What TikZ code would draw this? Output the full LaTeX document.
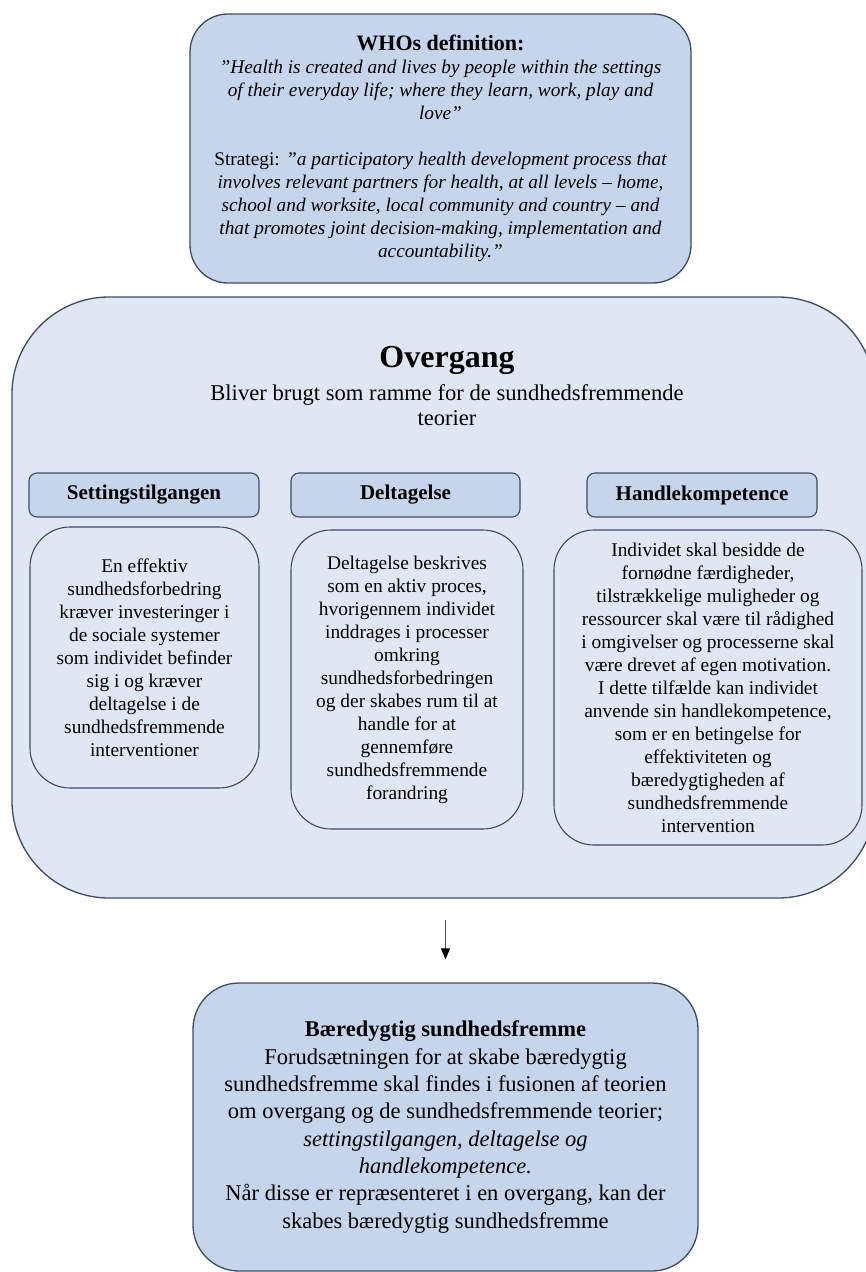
\documentclass[tikz,border=0pt]{standalone}
\usepackage{fontspec}
\setmainfont{Liberation Serif}
\usetikzlibrary{arrows.meta, positioning}
\definecolor{boxfill}{HTML}{C6D5EC}
\definecolor{framefill}{HTML}{DFE7F5}
\definecolor{boxstroke}{HTML}{3D4B60}
\definecolor{arrowgray}{HTML}{555555}

\begin{document}
\begin{tikzpicture}[
    x=1pt, y=-1pt,
    outerbox/.style={
        rectangle,
        draw=boxstroke,
        line width=1.3pt,
        fill=boxfill,
        align=center,
        inner sep=0pt,
    },
    headbox/.style={
        rectangle,
        rounded corners=8pt,
        minimum width=230pt,
        minimum height=44pt,
        draw=boxstroke,
        line width=1.1pt,
        fill=boxfill,
        font=\fontsize{21}{24}\selectfont\bfseries,
    },
    textbox/.style={
        rectangle,
        rounded corners=40pt,
        draw=boxstroke,
        line width=1.1pt,
        fill=framefill,
        align=center,
        inner sep=0pt,
        font=\fontsize{19.4}{23}\selectfont,
    },
    flow/.style={
        arrowgray,
        line width=0.8pt,
        -{Triangle[length=11pt, width=9pt, black]},
    },
]

\useasboundingbox (0,0) rectangle (865,1272);

% Top box
\node[outerbox, rounded corners=38pt, minimum width=501pt, minimum height=269pt,
      font=\fontsize{19.3}{23}\selectfont] (who) at (440.5,148.5) {
    {\fontsize{22}{24}\selectfont\bfseries WHOs definition:}\\
    \itshape ”Health is created and lives by people within the settings\\
    \itshape of their everyday life; where they learn, work, play and\\
    \itshape love”\\[23pt]
    Strategi: \itshape ”a participatory health development process that\\
    \itshape involves relevant partners for health, at all levels -- home,\\
    \itshape school and worksite, local community and country -- and\\
    \itshape that promotes joint decision-making, implementation and\\
    \itshape accountability.”
};

% Frame box
\node[outerbox, rounded corners=97pt, fill=framefill, minimum width=863pt,
      minimum height=601pt] (frame) at (443.5,597.5) {};

\node[font=\fontsize{32}{36}\selectfont\bfseries] (title) at (447,360) {Overgang};
\node[align=center, font=\fontsize{22.6}{25}\selectfont] (subtitle) at (447,405) {
    Bliver brugt som ramme for de sundhedsfremmende\\
    teorier
};

% Headings
\node[headbox] (settinghead) at (144,495) {Settingstilgangen};
\node[headbox, minimum width=229pt] (deltaghead) at (405.5,495) {Deltagelse};
\node[headbox] (handlehead) at (702,495) {Handlekompetence};

% Text boxes
\node[textbox, minimum width=229pt, minimum height=261pt] (settingtext) at (144.5,657.5) {
    En effektiv\\
    sundhedsforbedring\\
    kræver investeringer i\\
    de sociale systemer\\
    som individet befinder\\
    sig i og kræver\\
    deltagelse i de\\
    sundhedsfremmende\\
    interventioner
};

\node[textbox, minimum width=232pt, minimum height=299pt] (deltagtext) at (407,679.5) {
    Deltagelse beskrives\\
    som en aktiv proces,\\
    hvorigennem individet\\
    inddrages i processer\\
    omkring\\
    sundhedsforbedringen\\
    og der skabes rum til at\\
    handle for at\\
    gennemføre\\
    sundhedsfremmende\\
    forandring
};

\node[textbox, minimum width=308pt, minimum height=315pt] (handletext) at (708,687.5) {
    Individet skal besidde de\\
    fornødne færdigheder,\\
    tilstrækkelige muligheder og\\
    ressourcer skal være til rådighed\\
    i omgivelser og processerne skal\\
    være drevet af egen motivation.\\
    I dette tilfælde kan individet\\
    anvende sin handlekompetence,\\
    som er en betingelse for\\
    effektiviteten og\\
    bæredygtigheden af\\
    sundhedsfremmende\\
    intervention
};

% Bottom box
\node[outerbox, rounded corners=46pt, minimum width=505pt, minimum height=288pt,
      font=\fontsize{22.5}{27.3}\selectfont] (result) at (445.5,1127) {
    {\bfseries Bæredygtig sundhedsfremme}\\
    Forudsætningen for at skabe bæredygtig\\
    sundhedsfremme skal findes i fusionen af teorien\\
    om overgang og de sundhedsfremmende teorier;\\
    \itshape settingstilgangen, deltagelse og\\
    \itshape handlekompetence.\\
    Når disse er repræsenteret i en overgang, kan der\\
    skabes bæredygtig sundhedsfremme
};

% Arrow
\draw[flow] ([yshift=-21pt]result.north |- frame.south) -- ([yshift=23pt]result.north);

\end{tikzpicture}
\end{document}
